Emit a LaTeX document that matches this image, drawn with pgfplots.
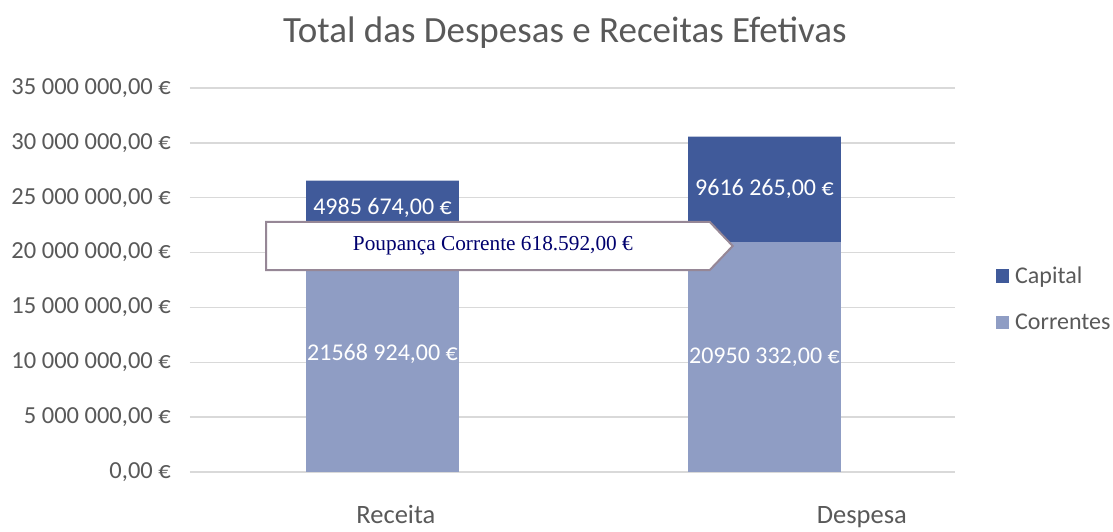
\documentclass[border=0pt]{standalone}
\usepackage{pgfplots}
\pgfplotsset{compat=1.18}
\usepackage{fontspec}
\setmainfont{Carlito}
\newfontfamily\timesfont{Liberation Serif}
\definecolor{capital}{RGB}{64,90,154}
\definecolor{correntes}{RGB}{143,157,196}
\definecolor{txtgray}{RGB}{89,89,89}
\definecolor{gridgray}{RGB}{217,217,217}
\definecolor{arrowborder}{RGB}{150,135,150}
\definecolor{navytxt}{RGB}{0,0,110}
\begin{document}
\begin{tikzpicture}
\useasboundingbox (-190pt,-60pt) rectangle (923pt,472pt);
\begin{axis}[
  scale only axis, width=765pt, height=384pt,
  ybar stacked, bar width=0.4,
  xmin=-0.504, xmax=1.499, ymin=0, ymax=35000000,
  scaled y ticks=false,
  xtick={0.035,1.255}, xticklabels={Receita,Despesa},
  ytick={0,5000000,10000000,15000000,20000000,25000000,30000000,35000000},
  yticklabels={{0,00 €},{5 000 000,00 €},{10 000 000,00 €},{15 000 000,00 €},{20 000 000,00 €},{25 000 000,00 €},{30 000 000,00 €},{35 000 000,00 €}},
  axis line style={draw=none}, major tick length=0pt,
  ymajorgrids, grid style={gridgray, line width=1.3pt},
  tick label style={font=\fontsize{24.5}{28}\selectfont, text=txtgray},
  yticklabel style={anchor=east, inner sep=0pt, xshift=-19pt},
  xticklabel style={anchor=base, inner sep=0pt, yshift=-52pt, font=\fontsize{26.5}{30}\selectfont},
  clip=false,
  reverse legend,
  legend cell align=left,
  legend style={at={(axis description cs:1.049,0.45)}, anchor=west, draw=none, fill=none,
    font=\fontsize{24}{27}\selectfont, text=txtgray, row sep=25pt,
    /tikz/every odd column/.append style={column sep=4pt}},
  every axis plot post/.append style={legend image code/.code={\fill[#1] (0pt,-6.5pt) rectangle (13.5pt,7pt);}},
]
\addplot[fill=correntes, draw=none] coordinates {(0,21568924) (1,20950332)};
\addlegendentry{Correntes}
\addplot[fill=capital, draw=none] coordinates {(0,4985674) (1,9616265)};
\addlegendentry{Capital}
\coordinate (l1) at (axis cs:0,10784462);
\coordinate (l2) at (axis cs:1,10475166);
\coordinate (l3) at (axis cs:0,24061761);
\coordinate (l4) at (axis cs:1,25758464);
\coordinate (a1) at (axis cs:-0.305,22790000);
\coordinate (a2) at (axis cs:0.857,22790000);
\coordinate (a3) at (axis cs:0.917,20600000);
\coordinate (a4) at (axis cs:0.857,18410000);
\coordinate (a5) at (axis cs:-0.305,18410000);
\coordinate (at) at (axis cs:0.289,20600000);
\coordinate (tt) at (axis description cs:0.49,1);
\end{axis}
\node[text=white, font=\fontsize{24}{27}\selectfont] at (l1) {21568 924,00 €};
\node[text=white, font=\fontsize{24}{27}\selectfont] at (l2) {20950 332,00 €};
\node[text=white, font=\fontsize{24}{27}\selectfont] at (l3) {4985 674,00 €};
\node[text=white, font=\fontsize{24}{27}\selectfont] at (l4) {9616 265,00 €};
\draw[arrowborder, line width=2pt, fill=white] (a1) -- (a2) -- (a3) -- (a4) -- (a5) -- cycle;
\node[text=navytxt, font=\timesfont\fontsize{21.3}{25}\selectfont] at (at) {Poupança Corrente 618.592,00 €};
\node[text=txtgray, font=\fontsize{37}{42}\selectfont] at ([yshift=55pt]tt) {Total das Despesas e Receitas Efetivas};
\end{tikzpicture}
\end{document}
